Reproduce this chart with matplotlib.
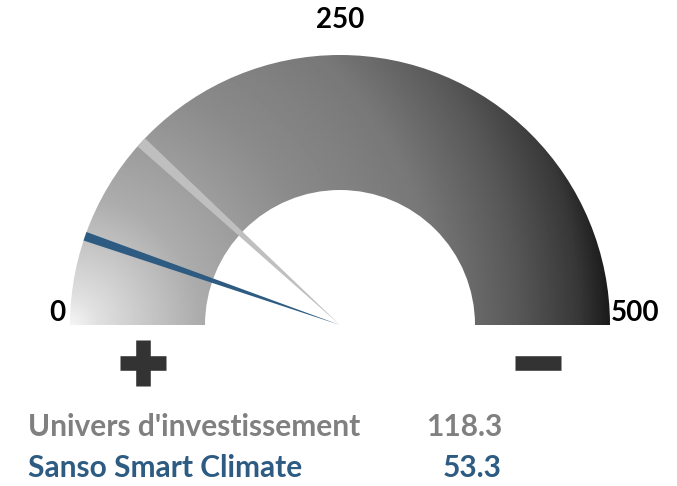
import numpy as np
import matplotlib.pyplot as plt
from matplotlib.patches import Wedge, Polygon
from matplotlib.colors import LinearSegmentedColormap

# ----------------------------------------
# Données
# ----------------------------------------
scale_min = 0
scale_max = 500
scale_ticks = [0, 250, 500]
series_names = ["Univers d'investissement", "Sanso Smart Climate"]
series_values = [118.3, 53.3]
series_colors = ['#bfbfbf', '#2d5b82']
label_colors = ['#808080', '#2d5b82']

plt.rcParams['font.family'] = ['Lato', 'DejaVu Sans']

fig = plt.figure(figsize=(6.77, 4.86), dpi=100)
ax = fig.add_axes([0, 0, 1, 1])

cx, cy = 340, 325
r_out, r_in = 270, 135


def angle_of(v):
    # 0 -> à gauche, 500 -> à droite
    return np.pi * (1 - (v - scale_min) / (scale_max - scale_min))


# ----------------------------------------
# Arc avec dégradé (clair en bas à gauche -> noir à droite)
# ----------------------------------------
xs = np.linspace(cx - r_out, cx + r_out, 600)
ys = np.linspace(cy - r_out, cy, 300)
X, Y = np.meshgrid(xs, ys)
d = np.hypot(X - (cx - r_out), Y - cy)
stops_d = [0, 28, 130, 258, 368, 448, 509, 545]
stops_v = [245, 224, 172, 138, 120, 88, 56, 22]
V = np.interp(d, stops_d, stops_v) / 255.0
gray = LinearSegmentedColormap.from_list('g', ['black', 'white'])
im = ax.imshow(V, cmap=gray, vmin=0, vmax=1, origin='upper',
               extent=(cx - r_out, cx + r_out, cy, cy - r_out), zorder=1,
               interpolation='bilinear', aspect='auto')
# axe y inversé : le demi-cercle du haut correspond aux angles 180..360
ring = Wedge((cx, cy), r_out, 180, 360, width=r_out - r_in,
             transform=ax.transData, facecolor='none', edgecolor='none')
ax.add_patch(ring)
im.set_clip_path(ring)

# ----------------------------------------
# Aiguilles
# ----------------------------------------
half_widths = [5.5, 4.5]
for val, col, hw in zip(series_values, series_colors, half_widths):
    a = angle_of(val)
    tip = np.array([cx + r_out * np.cos(a), cy - r_out * np.sin(a)])
    perp = np.array([np.sin(a), np.cos(a)])
    poly = Polygon([[cx, cy], tip + perp * hw, tip - perp * hw],
                   closed=True, facecolor=col, edgecolor='none', zorder=3)
    ax.add_patch(poly)

# ----------------------------------------
# Etiquettes de l'échelle
# ----------------------------------------
for t in scale_ticks:
    a = angle_of(t)
    if t == scale_min:
        ax.text(cx - r_out - 5, cy - 12, str(t), ha='right', va='center',
                fontsize=20, fontweight='bold', color='black')
    elif t == scale_max:
        ax.text(cx + r_out + 1, cy - 12, str(t), ha='left', va='center',
                fontsize=20, fontweight='bold', color='black')
    else:
        ax.text(cx + (r_out + 35) * np.cos(a), cy - (r_out + 35) * np.sin(a), str(t),
                ha='center', va='center', fontsize=20, fontweight='bold', color='black')

# Signes + et -
ax.plot([143, 143], [340, 386], color='#333333', lw=10.5, solid_capstyle='butt')
ax.plot([120, 166], [363, 363], color='#333333', lw=10.5, solid_capstyle='butt')
ax.plot([515, 561], [363, 363], color='#333333', lw=10.5, solid_capstyle='butt')

# ----------------------------------------
# Légende
# ----------------------------------------
rows_y = [427, 468]
for name, val, col, yy in zip(series_names, series_values, label_colors, rows_y):
    ax.text(28, yy, name, ha='left', va='center', fontsize=21.5,
            fontweight='bold', color=col)
    ax.text(502, yy, f'{val:.1f}', ha='right', va='center', fontsize=21.5,
            fontweight='bold', color=col)

ax.set_xlim(0, 677)
ax.set_ylim(486, 0)
ax.axis('off')

fig.savefig('out.png', dpi=100)
